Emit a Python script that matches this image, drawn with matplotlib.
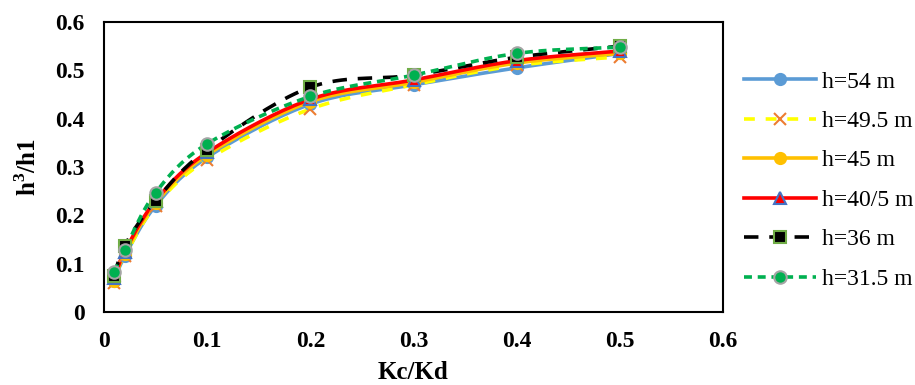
import numpy as np
import matplotlib
matplotlib.use("Agg")
import matplotlib.pyplot as plt

x = [0.01, 0.02, 0.05, 0.1, 0.2, 0.3, 0.4, 0.5]
labels = ["h=54 m", "h=49.5 m", "h=45 m", "h=40/5 m", "h=36 m", "h=31.5 m"]
h54 = [0.065, 0.115, 0.220, 0.320, 0.430, 0.470, 0.505, 0.535]
h495 = [0.060, 0.115, 0.220, 0.315, 0.420, 0.470, 0.510, 0.528]
h45 = [0.065, 0.120, 0.225, 0.325, 0.435, 0.475, 0.515, 0.535]
h405 = [0.070, 0.125, 0.230, 0.330, 0.440, 0.480, 0.520, 0.540]
h36 = [0.075, 0.137, 0.230, 0.336, 0.465, 0.490, 0.527, 0.550]
h315 = [0.083, 0.129, 0.247, 0.348, 0.446, 0.490, 0.535, 0.548]
series = [h54, h495, h45, h405, h36, h315]
ticks = [0, 0.1, 0.2, 0.3, 0.4, 0.5, 0.6]
tick_labels = ['0', '0.1', '0.2', '0.3', '0.4', '0.5', '0.6']

plt.rcParams['font.family'] = ['Liberation Serif', 'DejaVu Serif']

def smooth(xs, ys, n=20):
    xs = np.asarray(xs, float); ys = np.asarray(ys, float)
    P = np.column_stack([xs, ys])
    P = np.vstack([P[0] - (P[1] - P[0]), P, P[-1] + (P[-1] - P[-2])])
    out = []
    for i in range(1, len(P) - 2):
        p0, p1, p2, p3 = P[i - 1], P[i], P[i + 1], P[i + 2]
        t = np.linspace(0, 1, n, endpoint=False)[:, None]
        m1 = (p2 - p0) / 2
        m2 = (p3 - p1) / 2
        h00 = 2*t**3 - 3*t**2 + 1; h10 = t**3 - 2*t**2 + t
        h01 = -2*t**3 + 3*t**2; h11 = t**3 - t**2
        out.append(h00*p1 + h10*m1 + h01*p2 + h11*m2)
    out.append(P[-2][None, :])
    c = np.vstack(out)
    return c[:, 0], c[:, 1]

styles = [
    dict(color='#5B9BD5', ls='-', marker='o', mfc='#5B9BD5', mec='#5B9BD5', ms=8),
    dict(color='#FFFF00', ls=(0, (3, 3)), marker='x', mfc='#ED7D31', mec='#ED7D31', ms=8),
    dict(color='#FFC000', ls='-', marker='o', mfc='#FFC000', mec='#FFC000', ms=8),
    dict(color='#FF0000', ls='-', marker='^', mfc='#FF0000', mec='#4472C4', ms=8),
    dict(color='#000000', ls=(0, (4, 3)), marker='s', mfc='#000000', mec='#70AD47', ms=8),
    dict(color='#00B050', ls=(0, (2.2, 1.6)), marker='o', mfc='#00B050', mec='#A5A5A5', ms=9),
]

fig = plt.figure(figsize=(9.15, 3.85), dpi=100)
ax = fig.add_axes([104/915, 1 - 312/385, (723-104)/915, (312-22)/385])

handles = []
for ys, st, lab in zip(series, styles, labels):
    sx, sy = smooth(x, ys)
    ax.plot(sx, sy, color=st['color'], ls=st['ls'], lw=2.6, zorder=2)
    ax.plot(x, ys, ls='none', marker=st['marker'], mfc=st['mfc'], mec=st['mec'],
            ms=st['ms'], mew=1.5, zorder=3)
    h, = ax.plot([], [], color=st['color'], ls=st['ls'], lw=2.6, marker=st['marker'],
                 mfc=st['mfc'], mec=st['mec'], ms=st['ms'], mew=1.5)
    handles.append(h)

ax.set_xlim(0, 0.6)
ax.set_ylim(0, 0.6)
ax.set_xticks(ticks)
ax.set_yticks(ticks)
ax.set_xticklabels(tick_labels)
ax.set_yticklabels(tick_labels)
ax.tick_params(length=0, labelsize=17, pad=14)
for t in ax.get_xticklabels() + ax.get_yticklabels():
    t.set_fontweight('bold')
for s in ax.spines.values():
    s.set_linewidth(1.5)
ax.set_xlabel('Kc/Kd', fontsize=18, fontweight='bold', labelpad=6)
ax.set_ylabel('h$^\\mathregular{3}$/h1', fontsize=18, fontweight='bold', labelpad=10)

fig.legend(handles=handles, labels=labels, loc='upper left',
           bbox_to_anchor=(744/915, 1 - 71/385), frameon=False, fontsize=17,
           handlelength=3.05, labelspacing=0.76, handletextpad=0.25, borderaxespad=0,
           borderpad=0)

fig.savefig('out.png', dpi=100)
